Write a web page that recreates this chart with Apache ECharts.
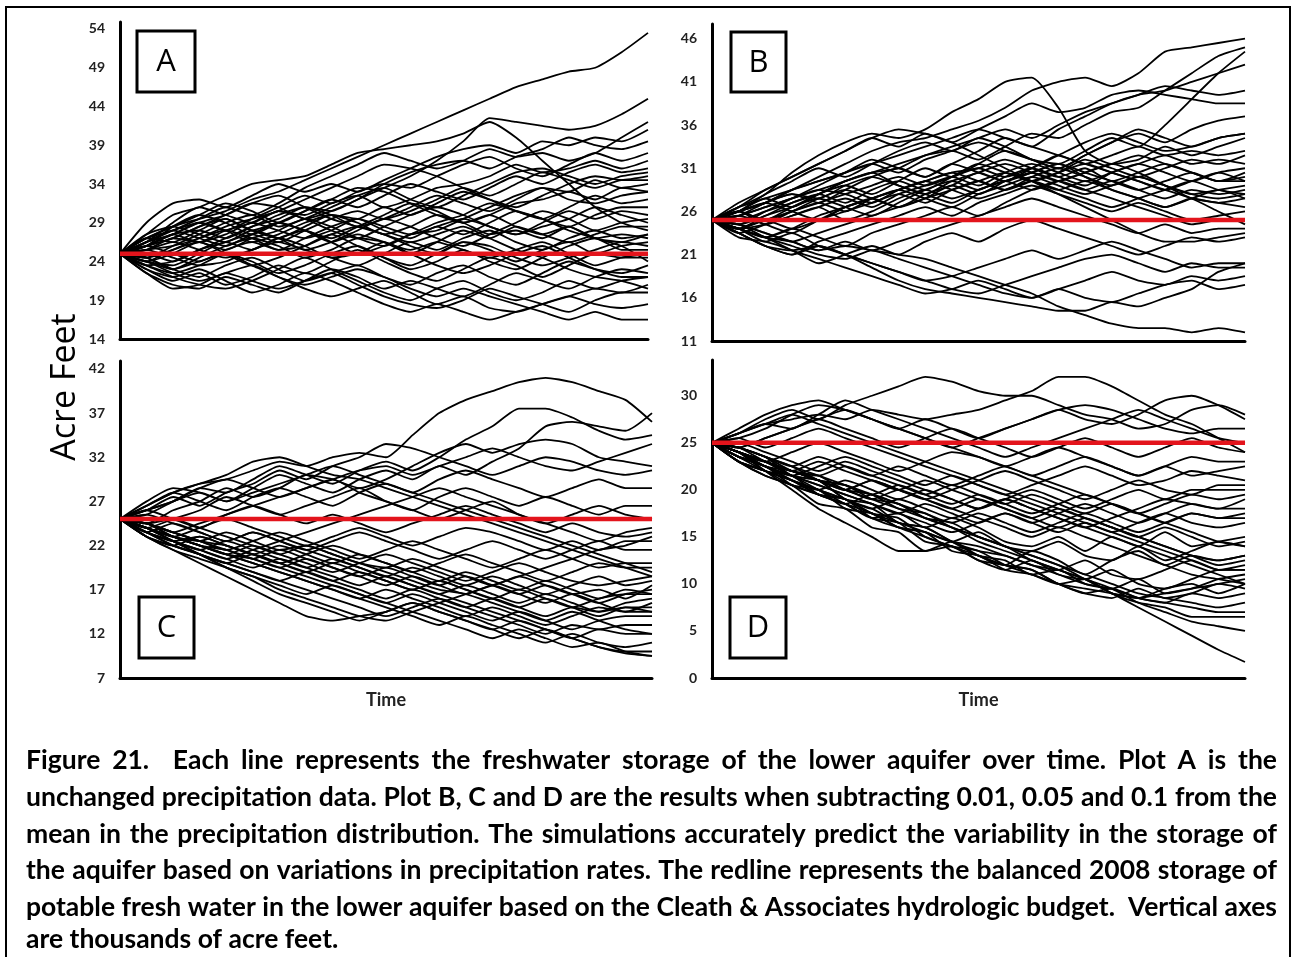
<!DOCTYPE html>
<html><head><meta charset="utf-8">
<script src="https://cdn.jsdelivr.net/npm/echarts@6/dist/echarts.min.js"></script>
<style>html,body{margin:0;padding:0;background:#fff}#c{width:1301px;height:957px}</style>
</head><body><div id="c"></div>
<script>
// ---------- DATA ----------
const timeSteps = [0,1,2,3,4,5,6,7,8,9,10,11,12,13,14,15,16,17,18,19,20];
const baseline2008 = 25;
const ticksA = [14,19,24,29,34,39,44,49,54];
const ticksB = [11,16,21,26,31,36,41,46];
const ticksC = [7,12,17,22,27,32,37,42];
const ticksD = [0,5,10,15,20,25,30];
const panelLetters = ['A','B','C','D'];

const runsA = [
[25,27,28.5,29.5,30.5,32,33,34.5,36,37.5,39,40.5,42,43.5,45,46.5,47.5,48.5,49,51,53.5],
[25,26,27.5,28,27,28.5,30,31,30.5,32,33.5,35,37,39.5,42.5,42,41.5,41,41.5,43,45],
[25,27.5,30,31,32.5,34,34.5,35,36.5,38,38.5,39,39.5,40.5,42,40,37,34,31,29,28],
[25,26.5,28,29.5,31,30,31.5,33.5,35,36.5,38,37,36,37,38.5,37.5,38,37,38,40,42],
[25,29,31.5,32,31,32.5,34,33,34,33,34.5,36,37.5,38.5,39,38,39.5,39,40,39.5,41],
[25,26,27,28.5,30,31.5,31,29.5,30.5,32,34,35.5,36.5,37,36,37.5,38.5,40,39,38.5,39.5],
[25,27,28,29,28,29.5,31,32.5,31.5,33,34,33.5,35,36.5,37.5,36,35,36.5,38,37,38],
[25,25.5,27,26.5,28,29,30.5,30,31.5,32.5,31,32,33.5,34,35,36.5,35.5,36,37,36,37],
[25,26,28.5,30,29,27.5,29,30.5,32,31,32.5,34,33,32,33.5,35,34,35.5,36.5,35.5,36],
[25,24.5,26,27.5,29,30,28.5,29.5,31,32.5,33.5,32,31,32.5,34,35.5,36,35,34,35,35.5],
[25,27,26.5,28,29.5,28,27,28.5,30,29.5,31,30,31.5,33,32,31,32.5,34,35,34.5,35],
[25,25,24,25.5,27,28.5,29.5,31,30,28.5,29.5,31,32.5,31.5,30.5,32,33.5,33,34.5,33.5,34],
[25,26.5,28,27,26,27.5,29,28,27,28.5,30,31.5,30.5,29,30,31.5,32,33,32,33.5,33],
[25,24,25,26.5,25.5,27,28,29.5,28.5,27,26,27.5,29,30,31.5,30.5,29.5,31,32.5,31.5,32],
[25,26,25,24,25.5,26.5,25.5,27,28.5,29.5,28,27,28.5,27.5,29,30.5,29.5,28.5,30,31,31],
[25,27.5,28.5,27.5,26.5,28,27,25.5,26.5,28,29.5,28.5,27,26,27.5,29,30.5,29.5,28,29,29.5],
[25,24,23,24.5,26,27,26,24.5,25.5,27,26.5,25,26.5,28,27,28.5,27.5,26.5,27.5,28.5,28.5],
[25,25.5,24.5,23.5,24,25.5,26.5,25.5,24.5,23.5,25,26.5,25.5,27,28,26.5,25.5,27,28,27,27.5],
[25,23.5,22.5,23.5,25,24,22.5,23.5,25,26,24.5,23.5,25,26.5,25.5,24,25.5,26.5,25,26,26.5],
[25,24,25.5,26.5,25,23.5,24.5,26,27.5,26,24.5,23,24,25.5,24,23,24.5,26,27,25.5,25.5],
[25,23,21.5,22.5,21,22,23.5,22.5,24,25.5,24,22.5,21.5,23,24.5,23.5,22,23.5,25,24.5,24.5],
[25,24.5,23,22,23.5,24.5,23,21.5,22.5,23.5,22,21,22.5,23.5,22,21,22.5,24,23,22.5,23.5],
[25,22.5,21,20.5,22,21,20,21.5,23,22,20.5,21.5,20.5,19.5,21,22.5,21.5,20.5,22,23,22.5],
[25,23.5,22,21,20.5,21.5,23,24.5,23,21.5,20,19,20.5,21.5,20,19,20,21.5,20.5,21.5,22],
[25,24,22.5,21.5,22.5,23.5,22,20.5,19.5,20.5,21.5,20,18.5,19.5,18,17.5,18.5,19.5,20.5,20,21],
[25,22.5,20.5,21,22.5,21.5,20.5,21.5,22.5,21,19.5,18.5,18,19,20.5,19.5,18.5,17.5,19,20,20],
[25,23,22,23,21.5,20,21,22.5,21.5,20,18.5,17.5,18.5,17.5,16.5,17.5,18.5,19.5,18.5,18,18.5],
[25,24.5,23,24,25,23.5,22,21,22,23,22,20.5,19.5,20.5,19.5,18.5,17.5,16.5,17.5,16.5,16.5],
[25,26,27,28.5,29.5,28,29,28,26.5,27.5,26.5,25.5,26.5,25.5,24.5,25.5,26.5,25,23.5,24.5,25],
[25,27,28.5,30,31.5,30.5,29,30.5,32,33.5,33,31.5,30,29,30,28.5,27.5,28.5,27,27.5,27],
[25,26.5,29,31,30,29,30.5,29.5,28,27,28.5,30,31,30,28.5,27.5,29,30.5,29.5,30.5,30],
[25,23.5,24,25.5,26.5,27.5,26.5,28,29.5,30.5,29.5,30.5,32,33.5,32.5,34,35.5,34.5,33.5,34.5,34.5],
[25,25.5,26,27,28.5,29.5,30.5,32,33.5,35,36.5,36,35,33.5,32,30.5,29.5,28,27,26,24],
[25,26,27.5,29,30,31.5,32.5,31,29.5,28.5,27.5,26.5,27.5,28.5,27,25.5,24.5,23,22,21.5,20.5],
[25,26,27.5,26.5,27.5,29,28,27,28,29.5,28.5,27.5,28.5,29.5,28.5,27.5,28.5,29.5,31,30,29],
[25,24.5,25.5,27,28,27,25.5,26,27.5,28.5,27.5,26,25,26.5,26,24.5,23.5,24.5,25.5,26.5,26],
[25,26.5,27.5,29,28,26.5,27.5,29,30,29,27.5,28.5,30,29,27.5,28,27,28.5,27,26.5,27.5],
[25,25.5,26.5,25.5,24.5,25.5,27,28,26.5,25,26,27.5,28,29.5,31,32.5,33.5,32,31.5,32.5,33],
[25,24,23.5,25,26.5,25.5,27,26,24.5,25,26.5,25,23.5,22.5,23.5,25,26,24.5,23,22,22]
];

const runsB = [
[25,26,27,28.5,30,31.5,33,34,34.5,35.5,36.5,38,40,41,41.5,40.5,42,44.5,45,45.5,46],
[25,26,27.5,26.5,28,29.5,30.5,31,32.5,33,32,33.5,35,34.5,36,37.5,38,40,42,44,45],
[25,24.5,26,27.5,29,30.5,31.5,30.5,32,33,34,33,32,31.5,33,34.5,33.5,36,39,42,44.5],
[25,27,28.5,30,31.5,33,34.5,33.5,35,34,35.5,37,38.5,37.5,38,39.5,40,39.5,39,38.5,38.5],
[25,26.5,28,30.5,32.5,34,35,34.5,35.5,37.5,39,41,41.5,38,33,31.5,32,33.5,32.5,33.5,34.5],
[25,25.5,27,28,27,28.5,30,31,30,31.5,33,34.5,33.5,35.5,37,38.5,39.5,40,41,42,43],
[25,26,28,29.5,31,30,31.5,33,34,33,34.5,33.5,32,31,32.5,34,35,34,35.5,36.5,37],
[25,24,25.5,26.5,28,29,28,29.5,31,30,31.5,33,32,31,32.5,34,35.5,34.5,33.5,34.5,35],
[25,26.5,27.5,28.5,29.5,30.5,32,31,30,31.5,30.5,29.5,31,32.5,31.5,32.5,33.5,32.5,33,32.5,33],
[25,25,26,27,28,27,28.5,29.5,28.5,30,31.5,30.5,29.5,30.5,32,31,30,31,32,31.5,32.5],
[25,24,24.5,25.5,26.5,27.5,26.5,28,29,30,29,30.5,31.5,30.5,29.5,30.5,31.5,30.5,29.5,30.5,31],
[25,26,25,26,27,26,27.5,28.5,29.5,30.5,31,32,31,30,31,29.5,30.5,31.5,30.5,29.5,30],
[25,23.5,24.5,26,27.5,28.5,27.5,26.5,28,29,30.5,29.5,30.5,31.5,30.5,29.5,28.5,29.5,30.5,29.5,29.5],
[25,25.5,24.5,23.5,25,26,27,28,27,28.5,29.5,28.5,30,31,30,29,30,29,28,28.5,29],
[25,24,23,24,25.5,26.5,27.5,26.5,27.5,29,28,29.5,30.5,29.5,28.5,29.5,28.5,27.5,28.5,28,28.5],
[25,26,27,26,25,26.5,27.5,28.5,27.5,26.5,28,29,30,29,28,29,30,29,28,27.5,28],
[25,24.5,23.5,22.5,23.5,24.5,25.5,26.5,27.5,28.5,29.5,30.5,29.5,28.5,29.5,28.5,27.5,26.5,27.5,27,27.5],
[25,26,24.5,25.5,26.5,25,26,27.5,28.5,27.5,28.5,29.5,28.5,29.5,30.5,31.5,30.5,29,27.5,27,26.5],
[25,23.5,22,21,22.5,23.5,24.5,25.5,26.5,25.5,27,28,29,28,27,26,27,26,25,25.5,26],
[25,24,23,24,23,22,23.5,24.5,25.5,26.5,25.5,27,28.5,29.5,28.5,27.5,26.5,25.5,24.5,25,25],
[25,24.5,23.5,22.5,21.5,22.5,21.5,22.5,23.5,24.5,25.5,26.5,27.5,26.5,25.5,24.5,23.5,24.5,23.5,24,24],
[25,23,22.5,21.5,20,21,22,21,22.5,23.5,22.5,24,25,24,23,22,21,22,23,22.5,23],
[25,24,22.5,23.5,22,21,20,19,18,18.5,19.5,20.5,21.5,20.5,21.5,22.5,21.5,20.5,19.5,20,20],
[25,23.5,22,21,22,21,20,19,18,17,16.5,17.5,18.5,19.5,20.5,21,20,19,20,19.5,19.5],
[25,24,23,21.5,20.5,19.5,18.5,17.5,16.5,17,18,17,16,17,18,19,18,17.5,18.5,18,18.5],
[25,24.5,23,22,21,20.5,21.5,20.5,19.5,18.5,17.5,16.5,16,17,16,15.5,16.5,17.5,18,17,17.5],
[25,24,23,22.5,21.5,22,21.5,21,20.5,19.5,18.5,17.5,16.5,15,14,13,12.5,12.5,12,12.5,12],
[25,23.5,22,21.5,22,21,19.5,18,17,16.5,16,15.5,15,14.5,14.5,15.5,15,16,17,19,20],
[25,26,27,28.5,29.5,30.5,31.5,32.5,33.5,34.5,35.5,34.5,33.5,32.5,31.5,30.5,29.5,28.5,27.5,26,24.5],
[25,26.5,28.5,30,31.5,33,34.5,35.5,35,34,32.5,31,29.5,28,26.5,25,23.5,22.5,22.5,23,23.5],
[25,25.5,26.5,27.5,28.5,29.5,30.5,31.5,32.5,33.5,34.5,35.5,34.5,36,37.5,38.5,39.5,40.5,40,39.5,40],
[25,24,25,26,27,28,29,30,29,30,31,30,31,32.5,34,35,34,33,33.5,34.5,35],
[25,26,27,28,27.5,29,30,29,28,29.5,30.5,31.5,30.5,29.5,30.5,31.5,32.5,31.5,30.5,29.5,30.5],
[25,25.5,26.5,27.5,28.5,28,27,28.5,29.5,30.5,29.5,28.5,29.5,30.5,31.5,30.5,29.5,28.5,29.5,30.5,29.5],
[25,24.5,25.5,27,28,29.5,30.5,29,28,27,28.5,29.5,30.5,31.5,30,28.5,27.5,26.5,27.5,28.5,27.5],
[25,26,25,26.5,27.5,26.5,25.5,27,28.5,29.5,28.5,30,31,30,29,30.5,31.5,32.5,31.5,32,31.5],
[25,24,25,24,25,26.5,27.5,28.5,29.5,28.5,27.5,28.5,29.5,28.5,27.5,26.5,27.5,28.5,29.5,28.5,28]
];

const runsC = [
[25,26.5,28,29,29.5,30.5,31.5,31,32,32.5,32,34.5,37,38.5,39.5,40.5,41,40.5,39.5,38.5,36],
[25,26,27,28.5,28,29.5,31,30,29,30.5,31.5,30.5,32,34,35.5,37.5,37.5,36.5,35,34,34.5],
[25,27,28.5,28,27,28.5,30,29,28,29.5,30.5,29.5,31,30,31.5,33,35.5,36,35.5,35,37],
[25,26,27.5,26.5,28,29,30.5,29.5,31,32,33.5,33,32,31,30,31,32,31.5,30.5,30,30.5],
[25,24.5,26,27,28.5,27.5,28.5,30,29.5,28.5,29.5,31,32.5,33.5,32.5,33.5,34,33.5,32,31.5,31],
[25,26.5,28,27,26,27.5,28.5,27.5,26.5,28,29,28,29.5,30.5,29.5,28.5,27.5,28.5,29.5,28.5,28.5],
[25,25.5,27,28.5,29.5,28.5,27.5,28.5,29.5,28,27,26,27.5,28.5,27.5,26.5,27.5,26.5,25.5,26.5,26.5],
[25,24,25,26,27.5,26.5,25.5,26.5,27.5,28.5,27,26,25,26,27,25.5,24.5,25.5,26.5,25.5,25],
[25,26,25,24,25.5,26.5,25.5,24.5,25.5,24.5,23.5,24.5,25.5,26.5,25.5,24.5,23.5,24.5,23.5,23,23.5],
[25,24,23,24,25,24,23,22,23,24,23,22,23,24,23.5,22.5,21.5,22.5,21.5,22.5,22.5],
[25,23.5,24.5,23.5,22.5,23.5,22.5,21.5,22.5,23.5,22.5,21.5,20.5,21.5,22.5,21.5,20.5,21.5,22.5,21.5,21.5],
[25,24.5,23.5,22.5,21.5,22.5,23.5,22.5,21.5,20.5,21.5,22.5,21.5,20.5,19.5,20.5,21.5,20.5,19.5,20,20],
[25,23,22,23,22,21,20,21,22,21,20,19,20,21,20,19,18,19,20,19.5,19.5],
[25,24,23,22,21,22,21,20,19,20,21,20,19,18,19,20,19,18,17.5,18,18.5],
[25,23.5,22.5,21.5,22.5,21.5,20.5,19.5,20.5,19.5,18.5,19.5,18.5,17.5,18.5,17.5,16.5,17.5,18.5,17.5,18],
[25,24.5,23.5,22.5,21.5,20.5,21.5,20.5,19.5,18.5,19.5,18.5,17.5,18.5,17.5,16.5,17.5,16.5,15.5,16.5,17],
[25,23,22,21,20,21,20,19,18,19,18,17,18,17,16,17,16,15,16,16.5,16.5],
[25,24,22.5,21.5,20.5,19.5,20.5,19.5,18.5,17.5,18.5,17.5,16.5,17.5,16.5,15.5,16.5,15.5,14.5,15.5,16],
[25,23.5,22,21,20,19,18,19,18,17,16,17,16,15,16,15,14,15,14.5,15,15],
[25,24.5,23,22,21,20,19,18,17,16,17,16,15,14,15,14,13,14,15,14.5,14.5],
[25,23,21.5,20.5,19.5,18.5,17.5,16.5,17.5,16.5,15.5,16.5,15.5,14.5,13.5,14.5,13.5,12.5,13.5,14,14],
[25,24,22.5,21,20,19,18,17,16,15,14,15,16,15,14,13,12,13,12.5,13,13],
[25,23.5,22,21,19.5,18,16.5,15.5,14.5,13.5,14.5,15.5,14.5,13.5,12.5,13.5,12.5,11.5,12.5,12,12],
[25,24.5,23,22,21,20,19,18,17,16,15,14,13,14,13,12,11,12,11,10.5,11],
[25,23,21.5,20,18.5,17,15.5,14,13.5,14,14.5,15.5,14.5,13.5,12.5,11.5,12.5,11.5,10.5,10,10],
[25,24,23,22,21,20.5,19.5,18.5,17.5,16.5,15.5,14.5,13.5,12.5,11.5,12.5,11.5,10.5,11,10,9.5],
[25,25.5,24.5,23.5,22.5,23.5,22.5,21.5,20.5,19.5,18.5,17.5,16.5,15.5,14.5,13.5,12.5,11.5,10.5,9.8,9.5],
[25,26,27,28,27,28,29,30,31,30,29,28,27,26,25,24,23,22,21,20,19],
[25,26.5,28,29,30,31.5,32,31,30,29.5,28.5,27.5,26.5,25.5,24.5,23.5,22.5,21.5,20.5,19.5,18.5],
[25,24.5,23.5,24.5,25.5,26.5,27.5,28.5,29.5,30.5,31,30,31,32,33,32,31,30.5,31.5,32.5,33.5],
[25,23.5,22.5,21.5,20.5,21.5,22.5,23.5,24.5,25.5,26.5,27.5,28.5,27.5,26.5,25.5,24.5,23.5,22.5,23.5,24],
[25,24,22.5,21,19.5,18.5,17,16,15,14,13.5,14.5,15.5,16.5,17.5,18.5,19.5,20.5,21.5,22,23],
[25,24,23,22,21.5,20.5,19.5,20.5,19.5,18.5,17.5,18.5,17.5,16.5,17.5,16.5,15.5,16.5,15.5,14.5,15.5],
[25,24.5,23.5,22.5,22,21,20,19,20,19,18,17,18,17,16,15,16,15,14,15,14.5],
[25,23.5,22.5,23,22,21,22,21,20,21,20,19,18,19,18,17,18,17,16,17,16.5],
[25,24,23,22.5,23.5,22.5,21.5,22,21,20,19.5,20.5,19.5,18.5,17.5,18.5,17.5,16.5,17,16,17.5],
[25,24.5,25,24,23,22,21,22,21,20,19,18,17,16.5,15.5,14.5,13.5,14.5,13.5,12.5,12]
];

const runsD = [
[25,26,27,27.5,28,27.5,28.5,28,27.5,28,28.5,29.5,30.5,32,32,31,29.5,28,27,25.5,24],
[25,26,27.5,28.5,27.5,29,30,31,32,31.5,30.5,30,30,29,28,27.5,26.5,27,28.5,29,28],
[25,25.5,26.5,28,29,28.5,27.5,26.5,27.5,26.5,25.5,26.5,27.5,28.5,27.5,27,28,29.5,30,29,27.5],
[25,26.5,28,29,29.5,28.5,27.5,26.5,25.5,24.5,25.5,26.5,27.5,28.5,29,28.5,27.5,26.5,26,26.5,26.5],
[25,26,27,26.5,28,29.5,28.5,27.5,26.5,25.5,24.5,23.5,24.5,25.5,26.5,27.5,28.5,27.5,26.5,25.5,25],
[25,24.5,25.5,26.5,27.5,26.5,25.5,24.5,25.5,26.5,25.5,24.5,23.5,24.5,25.5,24.5,23.5,24.5,25.5,24.5,24],
[25,24,23,24,25,24,23,22,23,24,23.5,22.5,23.5,24.5,23.5,22.5,21.5,22.5,23.5,23,23],
[25,24.5,23.5,22.5,23.5,22.5,21.5,22.5,21.5,20.5,21.5,22.5,21.5,22.5,23.5,22.5,21.5,22.5,21.5,22,22.5],
[25,23.5,22.5,21.5,22.5,23.5,22.5,21.5,20.5,21.5,20.5,19.5,20.5,21.5,22.5,21.5,20.5,21,22,21.5,21],
[25,24,23,22,21,20,21,20,19,20,21,22,21,20,19,20,21,20,19.5,20.5,20.5],
[25,23,22,21,20,21,20,19,20,19,18,19,20,19,18,19,20,19,20,20,20],
[25,24.5,23.5,22.5,21.5,20.5,19.5,20.5,19.5,18.5,19.5,18.5,17.5,18.5,19.5,18.5,17.5,18.5,19.5,19,19.5],
[25,23.5,22,21,20,19,18,19,18,17,18,19,18,17,16,17,18,19,18.5,18,19],
[25,24,22.5,21.5,20.5,19.5,18.5,17.5,18.5,17.5,16.5,17.5,16.5,17.5,18.5,17.5,16.5,17.5,18.5,18,18],
[25,23,21.5,20.5,19.5,18.5,19.5,18.5,17.5,16.5,17.5,16.5,15.5,16.5,17.5,16.5,15.5,16.5,17.5,17,17],
[25,24,23,21.5,20.5,19.5,18.5,17.5,16.5,15.5,16.5,17.5,16.5,15.5,16.5,15.5,16.5,17.5,16.5,16,16.5],
[25,23.5,22.5,20.5,19.5,18.5,17,17.5,16,17,16,14.5,14,15,13.5,15,14,15.5,14,14.5,15],
[25,24,22,21.5,19.5,18.5,17.5,16,15.5,14.5,15.5,14,13.5,14.5,13,12.5,14,12.5,13.5,14.5,14],
[25,23,21.5,20.5,18.5,18,16,15.5,13.5,14.5,13,12,13.5,12.5,11,12.5,13.5,12,13,12.5,13],
[25,24.5,23.5,21.5,21,19,18,16.5,16,14.5,13.5,13,12,11.5,12.5,11,10.5,11.5,12.5,11.5,12],
[25,23.5,22.5,21,19.5,19,17,16.5,14.5,14,12.5,11.5,12.5,11,10.5,11.5,10,9.5,10.5,11.5,11.5],
[25,24,23,21.5,21,19,18.5,16.5,16,14.5,13,12.5,11,11.5,10,9.5,10.5,9,9.5,10.5,11],
[25,23,22,20.5,20,18,17.5,16,15,14,13.5,12,11,10,10.5,9,8.5,9.5,10,9,10],
[25,24,22.5,21.5,20,19,17.5,17,15,14,13,12,11.5,10,9,8.5,9.5,8.5,9,10,9.5],
[25,23.5,22.5,21,20,18.5,17,16,15.5,13.5,13,11.5,11,10,9,9.5,8.5,8,9,8.5,9],
[25,24.5,23.5,22.5,21,20,19,18.5,17,16.5,15,14,13,12,11,10,9,8.5,8,7.5,8],
[25,23,22,21,19.5,19,17.5,16.5,15.5,14.5,14,13,12,11,10,9.5,8.5,8,7.5,7,7],
[25,24,23,22,21,20.5,19,18,17,16,14.5,13.5,12.5,11.5,10.5,9,8,7.5,6.5,6.5,6.5],
[25,24.5,23.5,22,21.5,20,19.5,18,17.5,16,15,14,12.5,11.5,10.5,9.5,8,7,6,5.5,5],
[25,24,23,22,21,20.5,19.5,18.5,17,16,15,14,13,12,10.5,9,7.5,6,4.5,3,1.7],
[25,24,22,20,18,16.5,15,13.5,13.5,14,12.5,12,11.5,10,9.5,9,8.5,9,9.5,10,10.5],
[25,25.5,24.5,25.5,26.5,25.5,24.5,23.5,22.5,21.5,20.5,19.5,18.5,17.5,16.5,15.5,14.5,13.5,12.5,11.5,11.5],
[25,24.5,25.5,26.5,27.5,28.5,27.5,26.5,25.5,24.5,23.5,22.5,21.5,20.5,19.5,18.5,17.5,16.5,15.5,14.5,14],
[25,26,27,28,27,26,25,24,23,22,21,20,19,18,17,16,15,14,13,12.5,13],
[25,24,23,22,21.5,22.5,21.5,20.5,19.5,20.5,19.5,18.5,19.5,18.5,17.5,18.5,17.5,16.5,17.5,17,17.5],
[25,24.5,23,22,21,20,19,20,19,18,19,18,17,16,17,16,15,16,15,14,14.5],
[25,23.5,23,22,23,22,21,20,21,20,19,18,17,18,17,16,15,14,13,12,12.5],
[25,25,24,23,22,23,22,21,20,19,18,19,18,17,16,15,14,13,12,11,10],
[25,24,22.5,22,21,20,21,20,19,18,17,16,15,16,15,14,13,12,11,10.5,10]
];

const yAxisTitle = 'Acre Feet';
const xAxisTitle = 'Time';
const captionLines = [
 'Figure 21.  Each line represents the freshwater storage of the lower aquifer over time. Plot A is the',
 'unchanged precipitation data. Plot B, C and D are the results when subtracting 0.01, 0.05 and 0.1 from the',
 'mean in the precipitation distribution. The simulations accurately predict the variability in the storage of',
 'the aquifer based on variations in precipitation rates. The redline represents the balanced 2008 storage of',
 'potable fresh water in the lower aquifer based on the Cleath & Associates hydrologic budget.  Vertical axes',
 'are thousands of acre feet.'
];

// ---------- LAYOUT ----------
const panels = [
  {runs: runsA, ticks: ticksA, max: 54.9, grid: {left:120, top:22, width:528, height:317}, time:false, box:[137,31,58,61]},
  {runs: runsB, ticks: ticksB, max: 47.7, grid: {left:712, top:24, width:533, height:317}, time:false, box:[731,32,55,60]},
  {runs: runsC, ticks: ticksC, max: 42.9, grid: {left:120, top:361, width:532, height:317}, time:true, box:[139,597,55,61]},
  {runs: runsD, ticks: ticksD, max: 33.8, grid: {left:712, top:360, width:533, height:318}, time:true, box:[730,597,56,61]}
];

const grid = [], xAxis = [], yAxis = [], series = [], graphic = [];
panels.forEach((p, i) => {
  grid.push(Object.assign({containLabel:false}, p.grid));
  xAxis.push({
    type:'value', gridIndex:i, min:timeSteps[0], max:timeSteps[timeSteps.length-1],
    axisLine:{show:true, onZero:false, lineStyle:{color:'#000', width:3}},
    axisTick:{show:false}, axisLabel:{show:false}, splitLine:{show:false},
    name: p.time ? xAxisTitle : '', nameLocation:'middle', nameGap:13,
    nameTextStyle:{fontFamily:'Lato', fontWeight:'bold', fontSize:18, color:'#222', verticalAlign:'top'}
  });
  yAxis.push({
    type:'value', gridIndex:i, min:p.ticks[0], max:p.max,
    axisLine:{show:true, onZero:false, lineStyle:{color:'#000', width:3}},
    axisTick:{show:false}, splitLine:{show:false},
    axisLabel:{customValues:p.ticks, margin:15, fontFamily:'Lato', fontWeight:'bold', fontSize:14, color:'#222'}
  });
  p.runs.forEach(run => {
    series.push({
      type:'line', xAxisIndex:i, yAxisIndex:i, showSymbol:false, silent:true, smooth:0.2,
      lineStyle:{color:'#000', width:1.8}, z:2,
      data: run.map((v, k) => [timeSteps[k], v])
    });
  });
  series.push({
    type:'line', xAxisIndex:i, yAxisIndex:i, showSymbol:false, silent:true,
    lineStyle:{color:'#e3141c', width:4.5}, z:5,
    data: [[timeSteps[0], baseline2008], [timeSteps[timeSteps.length-1], baseline2008]]
  });
  const b = p.box;
  graphic.push({type:'rect', shape:{x:b[0], y:b[1], width:b[2], height:b[3]},
    style:{fill:'#fff', stroke:'#000', lineWidth:3}, z:10});
  graphic.push({type:'text', x:b[0]+b[2]/2, y:b[1]+b[3]/2+1, z:11,
    style:{text:panelLetters[i], font:'31px "Open Sans"', fill:'#000', textAlign:'center', textVerticalAlign:'middle'}});
});

// outer frame
graphic.push({type:'rect', shape:{x:6, y:7, width:1284, height:960},
  style:{fill:'none', stroke:'#000', lineWidth:2}, z:1});
// y title
graphic.push({type:'text', x:65, y:387, rotation:Math.PI/2, z:11,
  style:{text:yAxisTitle, font:'34px "Open Sans"', fill:'#000', textAlign:'center', textVerticalAlign:'middle'}});

// caption (justified, bold humanist sans scaled to the reference line length)
const meas = document.createElement('canvas').getContext('2d');
meas.font = 'bold 22px Lato';
const lastW = meas.measureText(captionLines[captionLines.length-1]).width;
const capSize = Math.round(22 * 312 / lastW * 10) / 10;
const capFont = 'bold ' + capSize + 'px Lato';
meas.font = capFont;
const capLeft = 26, capRight = 1277;
const capY = [760, 797, 834, 870, 907, 939];
captionLines.forEach((line, li) => {
  const y = capY[li];
  if (li === captionLines.length - 1) {
    graphic.push({type:'text', x:capLeft, y:y, z:11,
      style:{text:line, font:capFont, fill:'#000', textAlign:'left', textVerticalAlign:'middle'}});
    return;
  }
  const words = line.split(' ');
  const widths = words.map(w => meas.measureText(w).width);
  const total = widths.reduce((a, c) => a + c, 0);
  const gap = (capRight - capLeft - total) / (words.length - 1);
  let x = capLeft;
  words.forEach((w, wi) => {
    if (w.length) graphic.push({type:'text', x:x, y:y, z:11,
      style:{text:w, font:capFont, fill:'#000', textAlign:'left', textVerticalAlign:'middle'}});
    x += widths[wi] + gap;
  });
});

const chart = echarts.init(document.getElementById('c'), null, {renderer:'canvas'});
chart.setOption({
  animation:false, backgroundColor:'#fff',
  grid, xAxis, yAxis, series, graphic
});
</script></body></html>
